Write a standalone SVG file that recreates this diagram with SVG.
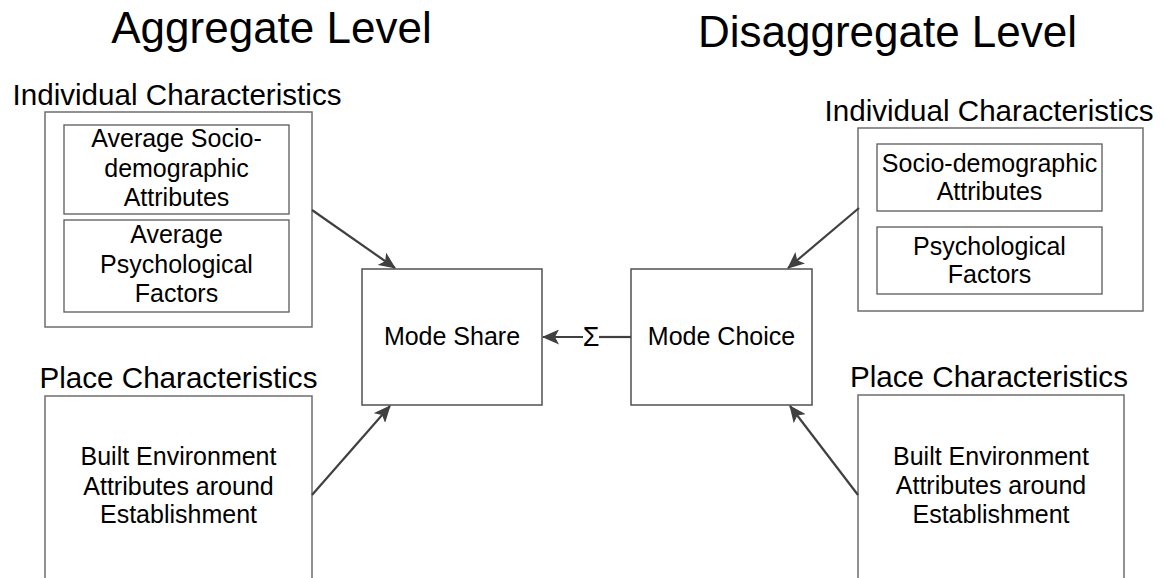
<svg xmlns="http://www.w3.org/2000/svg" width="1166" height="578" viewBox="0 0 1166 578">
<style>
text{font-family:"Liberation Sans",Arial,sans-serif;fill:#000;text-anchor:middle}
.title{font-size:44px}
.sec{font-size:29.6px}
.t{font-size:25px}
.sig{font-size:27px}
.outer{fill:#fff;stroke:#6e6e6e;stroke-width:1.5}
.inner{fill:#fff;stroke:#5a5a5a;stroke-width:1.3}
.main{fill:#fff;stroke:#505050;stroke-width:1.5}
.conn{stroke:#404040;stroke-width:2.2;fill:none}
</style>
<defs>
<marker id="ah" viewBox="0 0 17 15" refX="16" refY="7.5" markerWidth="17" markerHeight="15" markerUnits="userSpaceOnUse" orient="auto">
<path d="M0,0 L17,7.5 L0,15 L4,7.5 Z" fill="#404040"/>
</marker>
</defs>
<rect width="1166" height="578" fill="#fff"/>
<text class="title" x="271.5" y="43">Aggregate Level</text>
<text class="title" x="887.5" y="47">Disaggregate Level</text>

<g id="agg-individual">
<text class="sec" x="177" y="105">Individual Characteristics</text>
<rect class="outer" x="45" y="112" width="267" height="215"/>
<rect class="inner" x="64" y="125" width="225" height="89"/>
<text class="t" x="176.5" y="147">Average Socio-</text>
<text class="t" x="176.5" y="177">demographic</text>
<text class="t" x="176.5" y="206">Attributes</text>
<rect class="inner" x="64" y="220" width="225" height="92"/>
<text class="t" x="176.5" y="243">Average</text>
<text class="t" x="176.5" y="273">Psychological</text>
<text class="t" x="176.5" y="302">Factors</text>
</g>

<g id="agg-place">
<text class="sec" x="178.5" y="388">Place Characteristics</text>
<rect class="outer" x="45" y="396" width="267" height="210"/>
<text class="t" x="178.5" y="465">Built Environment</text>
<text class="t" x="178.5" y="495">Attributes around</text>
<text class="t" x="178.5" y="523">Establishment</text>
</g>

<g id="mode-share">
<rect class="main" x="362" y="269" width="180" height="136"/>
<text class="t" x="452" y="345">Mode Share</text>
</g>

<g id="mode-choice">
<rect class="main" x="631" y="269" width="181" height="136"/>
<text class="t" x="721.5" y="345">Mode Choice</text>
</g>

<g id="dis-individual">
<text class="sec" x="989" y="121">Individual Characteristics</text>
<rect class="outer" x="858" y="128" width="285" height="183"/>
<rect class="inner" x="877" y="144" width="225" height="67"/>
<text class="t" x="989.5" y="172">Socio-demographic</text>
<text class="t" x="989.5" y="200">Attributes</text>
<rect class="inner" x="877" y="227" width="225" height="67"/>
<text class="t" x="989.5" y="255">Psychological</text>
<text class="t" x="989.5" y="283">Factors</text>
</g>

<g id="dis-place">
<text class="sec" x="989" y="387">Place Characteristics</text>
<rect class="outer" x="858" y="395" width="266" height="210"/>
<text class="t" x="991" y="465">Built Environment</text>
<text class="t" x="991" y="494">Attributes around</text>
<text class="t" x="991" y="523">Establishment</text>
</g>

<g id="connectors">
<line class="conn" x1="312" y1="210" x2="395" y2="268" marker-end="url(#ah)"/>
<line class="conn" x1="312" y1="495" x2="390" y2="406" marker-end="url(#ah)"/>
<line class="conn" x1="859" y1="208" x2="788" y2="268" marker-end="url(#ah)"/>
<line class="conn" x1="858" y1="495" x2="790" y2="406" marker-end="url(#ah)"/>
<line class="conn" x1="631" y1="337" x2="599" y2="337"/>
<line class="conn" x1="583" y1="337" x2="543" y2="337" marker-end="url(#ah)"/>
<text class="sig" x="591" y="346">Σ</text>
</g>
</svg>
